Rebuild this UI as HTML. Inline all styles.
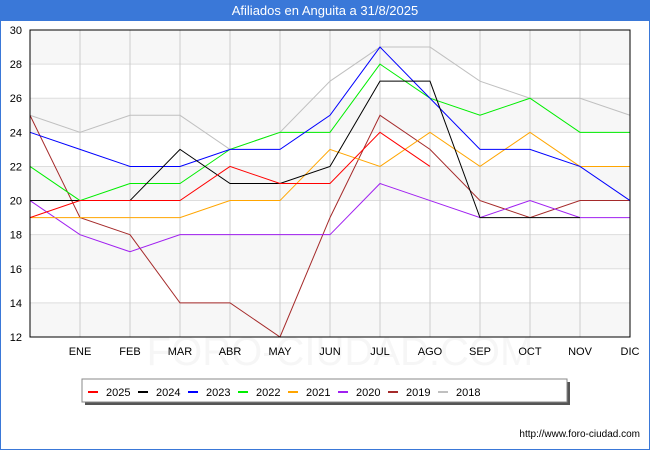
<!DOCTYPE html>
<html><head><meta charset="utf-8"><style>
body{margin:0;width:650px;height:450px;overflow:hidden;background:#fff;font-family:"Liberation Sans","DejaVu Sans",sans-serif}
</style></head><body>
<svg id="chart" width="650" height="450" xmlns="http://www.w3.org/2000/svg" font-family="Liberation Sans, DejaVu Sans, sans-serif">
<rect x="0.5" y="0.5" width="649" height="449" fill="#fff" stroke="#3a78d8"/>
<rect x="0" y="0" width="650" height="21" fill="#3a78d8"/>
<text x="325" y="15" text-anchor="middle" fill="#fff" font-size="13">Afiliados en Anguita a 31/8/2025</text>
<text x="340" y="365" text-anchor="middle" fill="#000" fill-opacity="0.035" font-size="40">FORO-CIUDAD.COM</text>
<g id="grid"></g><g id="lines"></g><g id="axes"></g>
<rect x="30" y="30" width="600" height="307" fill="none" stroke="#000" stroke-width="1"/>
<rect x="85" y="382" width="485" height="23" fill="#555"/>
<rect x="82" y="379" width="485" height="23" fill="#fff" stroke="#888"/>
<g id="legend"></g>
<text x="640" y="437" text-anchor="end" font-size="10" fill="#000">http://www.foro-ciudad.com</text>
</svg>
<script>
const months=["","ENE","FEB","MAR","ABR","MAY","JUN","JUL","AGO","SEP","OCT","NOV","DIC"];
const yTicks=[12,14,16,18,20,22,24,26,28,30];
const years=["2025","2024","2023","2022","2021","2020","2019","2018"];
const colors=["#ff0000","#000000","#0000ff","#00ee00","#ffa500","#a020f0","#a52a2a","#c0c0c0"];
const s2025=[19,20,20,20,22,21,21,24,22];
const s2024=[20,20,20,23,21,21,22,27,27,19,19,19];
const s2023=[24,23,22,22,23,23,25,29,26,23,23,22,20];
const s2022=[22,20,21,21,23,24,24,28,26,25,26,24,24];
const s2021=[19,19,19,19,20,20,23,22,24,22,24,22,22];
const s2020=[20,18,17,18,18,18,18,21,20,19,20,19,19];
const s2019=[25,19,18,14,14,12,19,25,23,20,19,20,20];
const s2018=[25,24,25,25,23,24,27,29,29,27,26,26,25];
const series=[s2025,s2024,s2023,s2022,s2021,s2020,s2019,s2018];
const NS="http://www.w3.org/2000/svg";
const X=i=>30+i*50, Y=v=>337-(v-12)*(307/18);
function mk(t,a,p){const e=document.createElementNS(NS,t);for(const k in a)e.setAttribute(k,a[k]);p.appendChild(e);return e;}
const grid=document.getElementById('grid'),axes=document.getElementById('axes'),lines=document.getElementById('lines'),leg=document.getElementById('legend');
for(let i=0;i<yTicks.length-1;i++){if(i%2==0){const r=mk('rect',{x:30,y:Y(yTicks[i+1]),width:600,height:Y(yTicks[i])-Y(yTicks[i+1]),fill:'#f7f7f7'},grid);

}}
yTicks.forEach(v=>{const l=mk('line',{x1:30,x2:630,y1:Y(v),y2:Y(v),stroke:'#ddd'},grid);


const t=mk('text',{x:22,y:Y(v)+4,'text-anchor':'end','font-size':11},axes);t.textContent=v;

});
months.forEach((m,i)=>{if(i==0)return;const l=mk('line',{x1:X(i),x2:X(i),y1:30,y2:337,stroke:'#ccc'},grid);


const t=mk('text',{x:X(i),y:355,'text-anchor':'middle','font-size':11},axes);t.textContent=m;

});
for(let k=series.length-1;k>=0;k--){const p=mk('polyline',{points:series[k].map((v,i)=>X(i)+','+Y(v)).join(' '),fill:'none',stroke:colors[k],'stroke-width':1},lines);

}
years.forEach((y,k)=>{const x=88+k*50;const l=mk('line',{x1:x,x2:x+10,y1:392,y2:392,stroke:colors[k],'stroke-width':2},leg);


const t=mk('text',{x:x+18,y:396,'font-size':11},leg);t.textContent=y;

});
</script>
</body></html>
